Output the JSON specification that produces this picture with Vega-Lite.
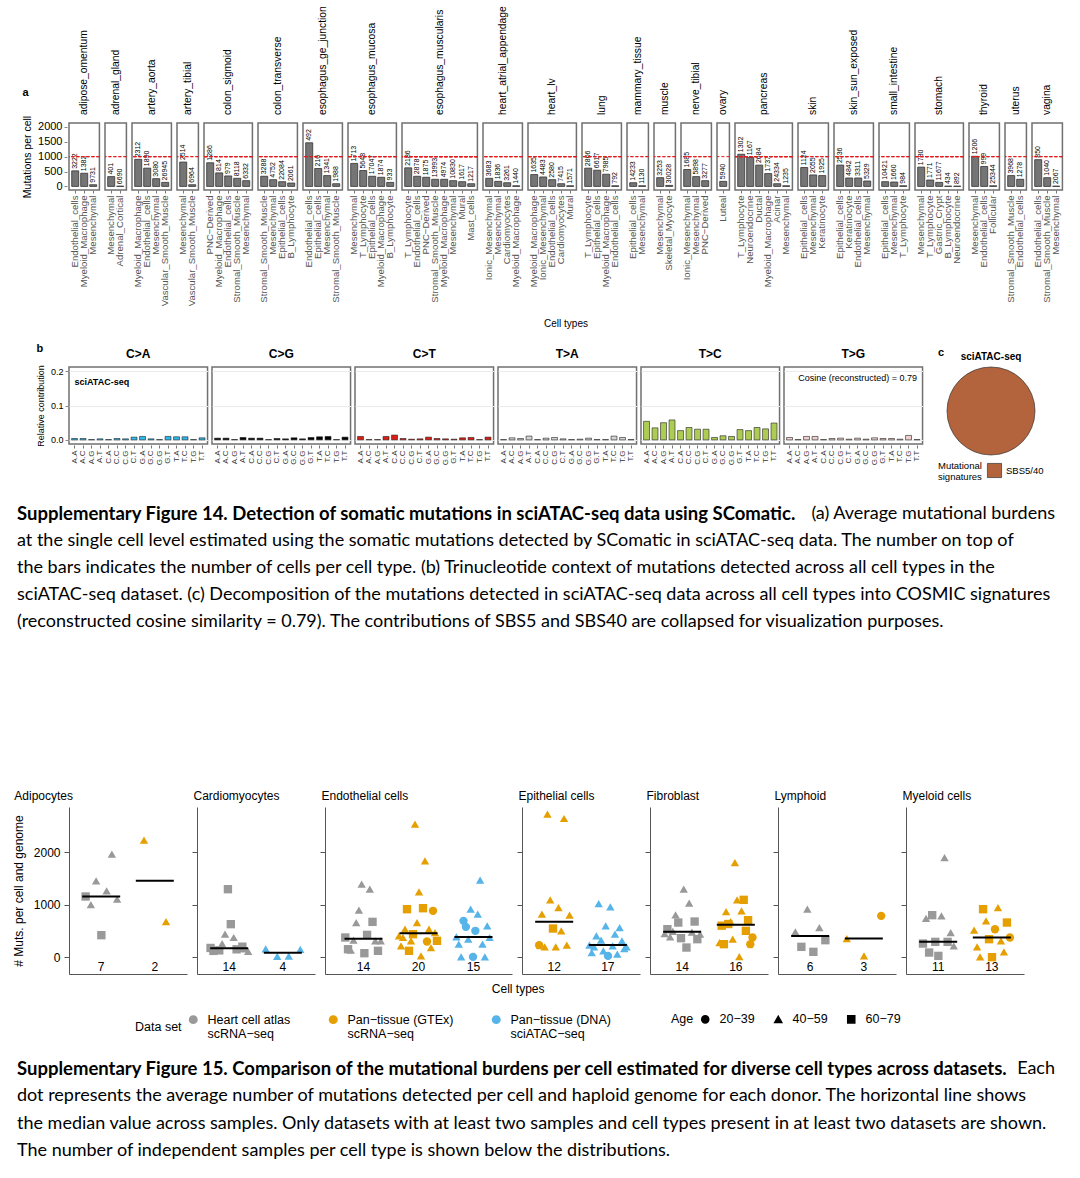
{
  "$schema": "https://vega.github.io/schema/vega-lite/v6.json",
  "padding": {"left": 12, "top": 6, "right": 4, "bottom": 4},
  "background": "white",
  "config": {
    "font": "Liberation Sans",
    "view": {"stroke": "#707070", "strokeWidth": 1.5},
    "axis": {"labelFont": "Liberation Sans", "titleFont": "Liberation Sans", "titleFontWeight": "normal", "labelOverlap": false},
    "header": {"labelFont": "Liberation Sans", "titleFont": "Liberation Sans"},
    "title": {"font": "Liberation Sans"},
    "legend": {"labelFont": "Liberation Sans", "titleFont": "Liberation Sans", "layout": {"bottom": {"anchor": "middle", "direction": "horizontal", "margin": 60}}}
  },
  "datasets": {
    "a": [
      {"tissue": "adipose_omentum", "cell": "Endothelial_cells", "mut": 523, "n": 3222},
      {"tissue": "adipose_omentum", "cell": "Myeloid_Macrophage", "mut": 443, "n": 1382},
      {"tissue": "adipose_omentum", "cell": "Mesenchymal", "mut": 57, "n": 9731},
      {"tissue": "adrenal_gland", "cell": "Mesenchymal", "mut": 330, "n": 401},
      {"tissue": "adrenal_gland", "cell": "Adrenal_Cortical", "mut": 10, "n": 6690},
      {"tissue": "artery_aorta", "cell": "Myeloid_Macrophage", "mut": 909, "n": 2312},
      {"tissue": "artery_aorta", "cell": "Endothelial_cells", "mut": 614, "n": 1890},
      {"tissue": "artery_aorta", "cell": "Mesenchymal", "mut": 261, "n": 3080},
      {"tissue": "artery_aorta", "cell": "Vascular_Smooth_Muscle", "mut": 136, "n": 26945},
      {"tissue": "artery_tibial", "cell": "Mesenchymal", "mut": 818, "n": 2514},
      {"tissue": "artery_tibial", "cell": "Vascular_Smooth_Muscle", "mut": 57, "n": 6964},
      {"tissue": "colon_sigmoid", "cell": "PNC-Derived", "mut": 795, "n": 1286},
      {"tissue": "colon_sigmoid", "cell": "Myeloid_Macrophage", "mut": 455, "n": 814},
      {"tissue": "colon_sigmoid", "cell": "Endothelial_cells", "mut": 352, "n": 979},
      {"tissue": "colon_sigmoid", "cell": "Stromal_Smooth_Muscle", "mut": 273, "n": 8118},
      {"tissue": "colon_sigmoid", "cell": "Mesenchymal", "mut": 193, "n": 6332},
      {"tissue": "colon_transverse", "cell": "Stromal_Smooth_Muscle", "mut": 341, "n": 3288},
      {"tissue": "colon_transverse", "cell": "Mesenchymal", "mut": 227, "n": 4752},
      {"tissue": "colon_transverse", "cell": "Epithelial_cells", "mut": 159, "n": 22084},
      {"tissue": "colon_transverse", "cell": "B_Lymphocyte", "mut": 114, "n": 2061},
      {"tissue": "esophagus_ge_junction", "cell": "Endothelial_cells", "mut": 1466, "n": 492},
      {"tissue": "esophagus_ge_junction", "cell": "Epithelial_cells", "mut": 602, "n": 216},
      {"tissue": "esophagus_ge_junction", "cell": "Mesenchymal", "mut": 364, "n": 1341},
      {"tissue": "esophagus_ge_junction", "cell": "Stromal_Smooth_Muscle", "mut": 91, "n": 1988},
      {"tissue": "esophagus_mucosa", "cell": "Mesenchymal", "mut": 773, "n": 1713},
      {"tissue": "esophagus_mucosa", "cell": "T_Lymphocyte", "mut": 534, "n": 5648},
      {"tissue": "esophagus_mucosa", "cell": "Epithelial_cells", "mut": 341, "n": 17047},
      {"tissue": "esophagus_mucosa", "cell": "Myeloid_Macrophage", "mut": 307, "n": 1874},
      {"tissue": "esophagus_mucosa", "cell": "B_Lymphocyte", "mut": 136, "n": 933},
      {"tissue": "esophagus_muscularis", "cell": "T_Lymphocyte", "mut": 625, "n": 2186},
      {"tissue": "esophagus_muscularis", "cell": "Endothelial_cells", "mut": 341, "n": 2878},
      {"tissue": "esophagus_muscularis", "cell": "PNC-Derived", "mut": 307, "n": 1875},
      {"tissue": "esophagus_muscularis", "cell": "Stromal_Smooth_Muscle", "mut": 239, "n": 13993},
      {"tissue": "esophagus_muscularis", "cell": "Myeloid_Macrophage", "mut": 239, "n": 4974},
      {"tissue": "esophagus_muscularis", "cell": "Mesenchymal", "mut": 193, "n": 10830},
      {"tissue": "esophagus_muscularis", "cell": "Mural", "mut": 159, "n": 1617},
      {"tissue": "esophagus_muscularis", "cell": "Mast_cells", "mut": 91, "n": 1217},
      {"tissue": "heart_atrial_appendage", "cell": "Ionic_Mesenchymal", "mut": 273, "n": 3683},
      {"tissue": "heart_atrial_appendage", "cell": "Mesenchymal", "mut": 170, "n": 1836},
      {"tissue": "heart_atrial_appendage", "cell": "Cardiomyocytes", "mut": 125, "n": 3261},
      {"tissue": "heart_atrial_appendage", "cell": "Myeloid_Macrophage", "mut": 23, "n": 1440},
      {"tissue": "heart_lv", "cell": "Myeloid_Macrophage", "mut": 398, "n": 1635},
      {"tissue": "heart_lv", "cell": "Ionic_Mesenchymal", "mut": 318, "n": 4483},
      {"tissue": "heart_lv", "cell": "Endothelial_cells", "mut": 227, "n": 2580},
      {"tissue": "heart_lv", "cell": "Cardiomyocytes", "mut": 91, "n": 7415},
      {"tissue": "heart_lv", "cell": "Mural", "mut": 23, "n": 1571},
      {"tissue": "lung", "cell": "T_Lymphocyte", "mut": 614, "n": 2806},
      {"tissue": "lung", "cell": "Epithelial_cells", "mut": 545, "n": 6617},
      {"tissue": "lung", "cell": "Myeloid_Macrophage", "mut": 409, "n": 7985},
      {"tissue": "lung", "cell": "Endothelial_cells", "mut": 23, "n": 792},
      {"tissue": "mammary_tissue", "cell": "Epithelial_cells", "mut": 125, "n": 14233},
      {"tissue": "mammary_tissue", "cell": "Mesenchymal", "mut": 23, "n": 1130},
      {"tissue": "muscle", "cell": "Mesenchymal", "mut": 295, "n": 3253},
      {"tissue": "muscle", "cell": "Skeletal_Myocyte", "mut": 34, "n": 30028},
      {"tissue": "nerve_tibial", "cell": "Ionic_Mesenchymal", "mut": 568, "n": 1685},
      {"tissue": "nerve_tibial", "cell": "Mesenchymal", "mut": 330, "n": 5898},
      {"tissue": "nerve_tibial", "cell": "PNC-Derived", "mut": 193, "n": 3277},
      {"tissue": "ovary", "cell": "Luteal", "mut": 170, "n": 5940},
      {"tissue": "pancreas", "cell": "T_Lymphocyte", "mut": 1080, "n": 1302},
      {"tissue": "pancreas", "cell": "Neuroendocrine", "mut": 977, "n": 1167},
      {"tissue": "pancreas", "cell": "Ductal", "mut": 716, "n": 2684},
      {"tissue": "pancreas", "cell": "Myeloid_Macrophage", "mut": 432, "n": 1737},
      {"tissue": "pancreas", "cell": "Acinar", "mut": 91, "n": 24334},
      {"tissue": "pancreas", "cell": "Mesenchymal", "mut": 23, "n": 1235},
      {"tissue": "skin", "cell": "Epithelial_cells", "mut": 636, "n": 1124},
      {"tissue": "skin", "cell": "Mesenchymal", "mut": 386, "n": 2055},
      {"tissue": "skin", "cell": "Keratinocyte", "mut": 364, "n": 1925},
      {"tissue": "skin_sun_exposed", "cell": "Epithelial_cells", "mut": 716, "n": 2536},
      {"tissue": "skin_sun_exposed", "cell": "Keratinocyte", "mut": 284, "n": 4842},
      {"tissue": "skin_sun_exposed", "cell": "Endothelial_cells", "mut": 284, "n": 3311},
      {"tissue": "skin_sun_exposed", "cell": "Mesenchymal", "mut": 182, "n": 5329},
      {"tissue": "small_intestine", "cell": "Epithelial_cells", "mut": 159, "n": 10421},
      {"tissue": "small_intestine", "cell": "Mesenchymal", "mut": 148, "n": 1660},
      {"tissue": "small_intestine", "cell": "T_Lymphocyte", "mut": 23, "n": 984},
      {"tissue": "stomach", "cell": "Mesenchymal", "mut": 648, "n": 1780},
      {"tissue": "stomach", "cell": "T_Lymphocyte", "mut": 216, "n": 1771},
      {"tissue": "stomach", "cell": "Gastric_Crypt", "mut": 136, "n": 11677},
      {"tissue": "stomach", "cell": "B_Lymphocyte", "mut": 11, "n": 434},
      {"tissue": "stomach", "cell": "Neuroendocrine", "mut": 11, "n": 892},
      {"tissue": "thyroid", "cell": "Mesenchymal", "mut": 1011, "n": 1206},
      {"tissue": "thyroid", "cell": "Endothelial_cells", "mut": 670, "n": 999},
      {"tissue": "thyroid", "cell": "Follicular", "mut": 23, "n": 25344},
      {"tissue": "uterus", "cell": "Stromal_Smooth_Muscle", "mut": 364, "n": 3968},
      {"tissue": "uterus", "cell": "Endothelial_cells", "mut": 239, "n": 1278},
      {"tissue": "vagina", "cell": "Endothelial_cells", "mut": 898, "n": 850},
      {"tissue": "vagina", "cell": "Stromal_Smooth_Muscle", "mut": 295, "n": 1040},
      {"tissue": "vagina", "cell": "Mesenchymal", "mut": 11, "n": 2067}
    ],
    "b": [
      {"sub": "C>A", "ctx": "A.A", "v": 0.004}, {"sub": "C>A", "ctx": "A.C", "v": 0.004}, {"sub": "C>A", "ctx": "A.G", "v": 0.001}, {"sub": "C>A", "ctx": "A.T", "v": 0.003},
      {"sub": "C>A", "ctx": "C.A", "v": 0.001}, {"sub": "C>A", "ctx": "C.C", "v": 0.004}, {"sub": "C>A", "ctx": "C.G", "v": 0.003}, {"sub": "C>A", "ctx": "C.T", "v": 0.008},
      {"sub": "C>A", "ctx": "G.A", "v": 0.010}, {"sub": "C>A", "ctx": "G.C", "v": 0.003}, {"sub": "C>A", "ctx": "G.G", "v": 0.001}, {"sub": "C>A", "ctx": "G.T", "v": 0.010},
      {"sub": "C>A", "ctx": "T.A", "v": 0.009}, {"sub": "C>A", "ctx": "T.C", "v": 0.009}, {"sub": "C>A", "ctx": "T.G", "v": 0.001}, {"sub": "C>A", "ctx": "T.T", "v": 0.006},
      {"sub": "C>G", "ctx": "A.A", "v": 0.005}, {"sub": "C>G", "ctx": "A.C", "v": 0.005}, {"sub": "C>G", "ctx": "A.G", "v": 0.001}, {"sub": "C>G", "ctx": "A.T", "v": 0.007},
      {"sub": "C>G", "ctx": "C.A", "v": 0.005}, {"sub": "C>G", "ctx": "C.C", "v": 0.005}, {"sub": "C>G", "ctx": "C.G", "v": 0.001}, {"sub": "C>G", "ctx": "C.T", "v": 0.004},
      {"sub": "C>G", "ctx": "G.A", "v": 0.003}, {"sub": "C>G", "ctx": "G.C", "v": 0.006}, {"sub": "C>G", "ctx": "G.G", "v": 0.003}, {"sub": "C>G", "ctx": "G.T", "v": 0.007},
      {"sub": "C>G", "ctx": "T.A", "v": 0.009}, {"sub": "C>G", "ctx": "T.C", "v": 0.010}, {"sub": "C>G", "ctx": "T.G", "v": 0.001}, {"sub": "C>G", "ctx": "T.T", "v": 0.008},
      {"sub": "C>T", "ctx": "A.A", "v": 0.010}, {"sub": "C>T", "ctx": "A.C", "v": 0.001}, {"sub": "C>T", "ctx": "A.G", "v": 0.001}, {"sub": "C>T", "ctx": "A.T", "v": 0.010},
      {"sub": "C>T", "ctx": "C.A", "v": 0.014}, {"sub": "C>T", "ctx": "C.C", "v": 0.004}, {"sub": "C>T", "ctx": "C.G", "v": 0.002}, {"sub": "C>T", "ctx": "C.T", "v": 0.003},
      {"sub": "C>T", "ctx": "G.A", "v": 0.008}, {"sub": "C>T", "ctx": "G.C", "v": 0.004}, {"sub": "C>T", "ctx": "G.G", "v": 0.003}, {"sub": "C>T", "ctx": "G.T", "v": 0.002},
      {"sub": "C>T", "ctx": "T.A", "v": 0.006}, {"sub": "C>T", "ctx": "T.C", "v": 0.007}, {"sub": "C>T", "ctx": "T.G", "v": 0.001}, {"sub": "C>T", "ctx": "T.T", "v": 0.008},
      {"sub": "T>A", "ctx": "A.A", "v": 0.001}, {"sub": "T>A", "ctx": "A.C", "v": 0.006}, {"sub": "T>A", "ctx": "A.G", "v": 0.004}, {"sub": "T>A", "ctx": "A.T", "v": 0.011},
      {"sub": "T>A", "ctx": "C.A", "v": 0.001}, {"sub": "T>A", "ctx": "C.C", "v": 0.005}, {"sub": "T>A", "ctx": "C.G", "v": 0.007}, {"sub": "T>A", "ctx": "C.T", "v": 0.003},
      {"sub": "T>A", "ctx": "G.A", "v": 0.001}, {"sub": "T>A", "ctx": "G.C", "v": 0.002}, {"sub": "T>A", "ctx": "G.G", "v": 0.005}, {"sub": "T>A", "ctx": "G.T", "v": 0.001},
      {"sub": "T>A", "ctx": "T.A", "v": 0.001}, {"sub": "T>A", "ctx": "T.C", "v": 0.011}, {"sub": "T>A", "ctx": "T.G", "v": 0.007}, {"sub": "T>A", "ctx": "T.T", "v": 0.001},
      {"sub": "T>C", "ctx": "A.A", "v": 0.054}, {"sub": "T>C", "ctx": "A.C", "v": 0.035}, {"sub": "T>C", "ctx": "A.G", "v": 0.050}, {"sub": "T>C", "ctx": "A.T", "v": 0.058},
      {"sub": "T>C", "ctx": "C.A", "v": 0.027}, {"sub": "T>C", "ctx": "C.C", "v": 0.036}, {"sub": "T>C", "ctx": "C.G", "v": 0.031}, {"sub": "T>C", "ctx": "C.T", "v": 0.031},
      {"sub": "T>C", "ctx": "G.A", "v": 0.007}, {"sub": "T>C", "ctx": "G.C", "v": 0.012}, {"sub": "T>C", "ctx": "G.G", "v": 0.010}, {"sub": "T>C", "ctx": "G.T", "v": 0.030},
      {"sub": "T>C", "ctx": "T.A", "v": 0.027}, {"sub": "T>C", "ctx": "T.C", "v": 0.036}, {"sub": "T>C", "ctx": "T.G", "v": 0.032}, {"sub": "T>C", "ctx": "T.T", "v": 0.049},
      {"sub": "T>G", "ctx": "A.A", "v": 0.007}, {"sub": "T>G", "ctx": "A.C", "v": 0.001}, {"sub": "T>G", "ctx": "A.G", "v": 0.010}, {"sub": "T>G", "ctx": "A.T", "v": 0.010},
      {"sub": "T>G", "ctx": "C.A", "v": 0.001}, {"sub": "T>G", "ctx": "C.C", "v": 0.004}, {"sub": "T>G", "ctx": "C.G", "v": 0.005}, {"sub": "T>G", "ctx": "C.T", "v": 0.002},
      {"sub": "T>G", "ctx": "G.A", "v": 0.005}, {"sub": "T>G", "ctx": "G.C", "v": 0.002}, {"sub": "T>G", "ctx": "G.G", "v": 0.006}, {"sub": "T>G", "ctx": "G.T", "v": 0.004},
      {"sub": "T>G", "ctx": "T.A", "v": 0.004}, {"sub": "T>G", "ctx": "T.C", "v": 0.002}, {"sub": "T>G", "ctx": "T.G", "v": 0.013}, {"sub": "T>G", "ctx": "T.T", "v": 0.001}
    ],
    "f15": [
      {"cell": "Adipocytes", "ds": "Heart cell atlas scRNA-seq", "age": "60-79", "v": 1156, "r": 1},
      {"cell": "Adipocytes", "ds": "Heart cell atlas scRNA-seq", "age": "40-59", "v": 1003, "r": 2},
      {"cell": "Adipocytes", "ds": "Heart cell atlas scRNA-seq", "age": "40-59", "v": 1454, "r": 3},
      {"cell": "Adipocytes", "ds": "Heart cell atlas scRNA-seq", "age": "60-79", "v": 419, "r": 4},
      {"cell": "Adipocytes", "ds": "Heart cell atlas scRNA-seq", "age": "40-59", "v": 1263, "r": 5},
      {"cell": "Adipocytes", "ds": "Heart cell atlas scRNA-seq", "age": "40-59", "v": 1962, "r": 6},
      {"cell": "Adipocytes", "ds": "Heart cell atlas scRNA-seq", "age": "40-59", "v": 1105, "r": 7},
      {"cell": "Adipocytes", "ds": "Pan-tissue (GTEx) scRNA-seq", "age": "40-59", "v": 2229, "r": 1},
      {"cell": "Adipocytes", "ds": "Pan-tissue (GTEx) scRNA-seq", "age": "40-59", "v": 679, "r": 2},
      {"cell": "Cardiomyocytes", "ds": "Heart cell atlas scRNA-seq", "age": "60-79", "v": 176, "r": 1},
      {"cell": "Cardiomyocytes", "ds": "Heart cell atlas scRNA-seq", "age": "60-79", "v": 120, "r": 2},
      {"cell": "Cardiomyocytes", "ds": "Heart cell atlas scRNA-seq", "age": "40-59", "v": 140, "r": 3},
      {"cell": "Cardiomyocytes", "ds": "Heart cell atlas scRNA-seq", "age": "60-79", "v": 130, "r": 4},
      {"cell": "Cardiomyocytes", "ds": "Heart cell atlas scRNA-seq", "age": "40-59", "v": 260, "r": 5},
      {"cell": "Cardiomyocytes", "ds": "Heart cell atlas scRNA-seq", "age": "40-59", "v": 438, "r": 6},
      {"cell": "Cardiomyocytes", "ds": "Heart cell atlas scRNA-seq", "age": "60-79", "v": 1295, "r": 7},
      {"cell": "Cardiomyocytes", "ds": "Heart cell atlas scRNA-seq", "age": "60-79", "v": 629, "r": 8},
      {"cell": "Cardiomyocytes", "ds": "Heart cell atlas scRNA-seq", "age": "40-59", "v": 375, "r": 9},
      {"cell": "Cardiomyocytes", "ds": "Heart cell atlas scRNA-seq", "age": "60-79", "v": 150, "r": 10},
      {"cell": "Cardiomyocytes", "ds": "Heart cell atlas scRNA-seq", "age": "40-59", "v": 168, "r": 11},
      {"cell": "Cardiomyocytes", "ds": "Heart cell atlas scRNA-seq", "age": "60-79", "v": 200, "r": 12},
      {"cell": "Cardiomyocytes", "ds": "Heart cell atlas scRNA-seq", "age": "40-59", "v": 160, "r": 13},
      {"cell": "Cardiomyocytes", "ds": "Heart cell atlas scRNA-seq", "age": "40-59", "v": 110, "r": 14},
      {"cell": "Cardiomyocytes", "ds": "Pan-tissue (DNA) sciATAC-seq", "age": "40-59", "v": 160, "r": 1},
      {"cell": "Cardiomyocytes", "ds": "Pan-tissue (DNA) sciATAC-seq", "age": "40-59", "v": 15, "r": 2},
      {"cell": "Cardiomyocytes", "ds": "Pan-tissue (DNA) sciATAC-seq", "age": "40-59", "v": 20, "r": 3},
      {"cell": "Cardiomyocytes", "ds": "Pan-tissue (DNA) sciATAC-seq", "age": "40-59", "v": 150, "r": 4},
      {"cell": "Endothelial cells", "ds": "Heart cell atlas scRNA-seq", "age": "60-79", "v": 375, "r": 1},
      {"cell": "Endothelial cells", "ds": "Heart cell atlas scRNA-seq", "age": "60-79", "v": 152, "r": 2},
      {"cell": "Endothelial cells", "ds": "Heart cell atlas scRNA-seq", "age": "40-59", "v": 133, "r": 3},
      {"cell": "Endothelial cells", "ds": "Heart cell atlas scRNA-seq", "age": "40-59", "v": 324, "r": 4},
      {"cell": "Endothelial cells", "ds": "Heart cell atlas scRNA-seq", "age": "40-59", "v": 660, "r": 5},
      {"cell": "Endothelial cells", "ds": "Heart cell atlas scRNA-seq", "age": "40-59", "v": 895, "r": 6},
      {"cell": "Endothelial cells", "ds": "Heart cell atlas scRNA-seq", "age": "40-59", "v": 1390, "r": 7},
      {"cell": "Endothelial cells", "ds": "Heart cell atlas scRNA-seq", "age": "60-79", "v": 76, "r": 8},
      {"cell": "Endothelial cells", "ds": "Heart cell atlas scRNA-seq", "age": "60-79", "v": 425, "r": 9},
      {"cell": "Endothelial cells", "ds": "Heart cell atlas scRNA-seq", "age": "40-59", "v": 1295, "r": 10},
      {"cell": "Endothelial cells", "ds": "Heart cell atlas scRNA-seq", "age": "60-79", "v": 673, "r": 11},
      {"cell": "Endothelial cells", "ds": "Heart cell atlas scRNA-seq", "age": "40-59", "v": 311, "r": 12},
      {"cell": "Endothelial cells", "ds": "Heart cell atlas scRNA-seq", "age": "60-79", "v": 121, "r": 13},
      {"cell": "Endothelial cells", "ds": "Heart cell atlas scRNA-seq", "age": "40-59", "v": 311, "r": 14},
      {"cell": "Endothelial cells", "ds": "Pan-tissue (GTEx) scRNA-seq", "age": "40-59", "v": 406, "r": 1},
      {"cell": "Endothelial cells", "ds": "Pan-tissue (GTEx) scRNA-seq", "age": "40-59", "v": 216, "r": 2},
      {"cell": "Endothelial cells", "ds": "Pan-tissue (GTEx) scRNA-seq", "age": "40-59", "v": 375, "r": 3},
      {"cell": "Endothelial cells", "ds": "Pan-tissue (GTEx) scRNA-seq", "age": "40-59", "v": 533, "r": 4},
      {"cell": "Endothelial cells", "ds": "Pan-tissue (GTEx) scRNA-seq", "age": "60-79", "v": 914, "r": 5},
      {"cell": "Endothelial cells", "ds": "Pan-tissue (GTEx) scRNA-seq", "age": "60-79", "v": 121, "r": 6},
      {"cell": "Endothelial cells", "ds": "Pan-tissue (GTEx) scRNA-seq", "age": "40-59", "v": 311, "r": 7},
      {"cell": "Endothelial cells", "ds": "Pan-tissue (GTEx) scRNA-seq", "age": "60-79", "v": 438, "r": 8},
      {"cell": "Endothelial cells", "ds": "Pan-tissue (GTEx) scRNA-seq", "age": "40-59", "v": 2533, "r": 9},
      {"cell": "Endothelial cells", "ds": "Pan-tissue (GTEx) scRNA-seq", "age": "40-59", "v": 660, "r": 10},
      {"cell": "Endothelial cells", "ds": "Pan-tissue (GTEx) scRNA-seq", "age": "40-59", "v": 1244, "r": 11},
      {"cell": "Endothelial cells", "ds": "Pan-tissue (GTEx) scRNA-seq", "age": "40-59", "v": 25, "r": 12},
      {"cell": "Endothelial cells", "ds": "Pan-tissue (GTEx) scRNA-seq", "age": "60-79", "v": 933, "r": 13},
      {"cell": "Endothelial cells", "ds": "Pan-tissue (GTEx) scRNA-seq", "age": "40-59", "v": 1835, "r": 14},
      {"cell": "Endothelial cells", "ds": "Pan-tissue (GTEx) scRNA-seq", "age": "20-39", "v": 298, "r": 15},
      {"cell": "Endothelial cells", "ds": "Pan-tissue (GTEx) scRNA-seq", "age": "40-59", "v": 533, "r": 16},
      {"cell": "Endothelial cells", "ds": "Pan-tissue (GTEx) scRNA-seq", "age": "40-59", "v": 184, "r": 17},
      {"cell": "Endothelial cells", "ds": "Pan-tissue (GTEx) scRNA-seq", "age": "20-39", "v": 883, "r": 18},
      {"cell": "Endothelial cells", "ds": "Pan-tissue (GTEx) scRNA-seq", "age": "40-59", "v": 470, "r": 19},
      {"cell": "Endothelial cells", "ds": "Pan-tissue (GTEx) scRNA-seq", "age": "60-79", "v": 311, "r": 20},
      {"cell": "Endothelial cells", "ds": "Pan-tissue (DNA) sciATAC-seq", "age": "40-59", "v": 385, "r": 1},
      {"cell": "Endothelial cells", "ds": "Pan-tissue (DNA) sciATAC-seq", "age": "40-59", "v": 248, "r": 2},
      {"cell": "Endothelial cells", "ds": "Pan-tissue (DNA) sciATAC-seq", "age": "40-59", "v": 6, "r": 3},
      {"cell": "Endothelial cells", "ds": "Pan-tissue (DNA) sciATAC-seq", "age": "20-39", "v": 692, "r": 4},
      {"cell": "Endothelial cells", "ds": "Pan-tissue (DNA) sciATAC-seq", "age": "20-39", "v": 578, "r": 5},
      {"cell": "Endothelial cells", "ds": "Pan-tissue (DNA) sciATAC-seq", "age": "40-59", "v": 343, "r": 6},
      {"cell": "Endothelial cells", "ds": "Pan-tissue (DNA) sciATAC-seq", "age": "40-59", "v": 914, "r": 7},
      {"cell": "Endothelial cells", "ds": "Pan-tissue (DNA) sciATAC-seq", "age": "20-39", "v": 6, "r": 8},
      {"cell": "Endothelial cells", "ds": "Pan-tissue (DNA) sciATAC-seq", "age": "20-39", "v": 502, "r": 9},
      {"cell": "Endothelial cells", "ds": "Pan-tissue (DNA) sciATAC-seq", "age": "40-59", "v": 819, "r": 10},
      {"cell": "Endothelial cells", "ds": "Pan-tissue (DNA) sciATAC-seq", "age": "40-59", "v": 1467, "r": 11},
      {"cell": "Endothelial cells", "ds": "Pan-tissue (DNA) sciATAC-seq", "age": "40-59", "v": 248, "r": 12},
      {"cell": "Endothelial cells", "ds": "Pan-tissue (DNA) sciATAC-seq", "age": "40-59", "v": 6, "r": 13},
      {"cell": "Endothelial cells", "ds": "Pan-tissue (DNA) sciATAC-seq", "age": "40-59", "v": 597, "r": 14},
      {"cell": "Endothelial cells", "ds": "Pan-tissue (DNA) sciATAC-seq", "age": "40-59", "v": 375, "r": 15},
      {"cell": "Epithelial cells", "ds": "Pan-tissue (GTEx) scRNA-seq", "age": "20-39", "v": 229, "r": 1},
      {"cell": "Epithelial cells", "ds": "Pan-tissue (GTEx) scRNA-seq", "age": "40-59", "v": 819, "r": 2},
      {"cell": "Epithelial cells", "ds": "Pan-tissue (GTEx) scRNA-seq", "age": "40-59", "v": 197, "r": 3},
      {"cell": "Epithelial cells", "ds": "Pan-tissue (GTEx) scRNA-seq", "age": "40-59", "v": 2724, "r": 4},
      {"cell": "Epithelial cells", "ds": "Pan-tissue (GTEx) scRNA-seq", "age": "40-59", "v": 1092, "r": 5},
      {"cell": "Epithelial cells", "ds": "Pan-tissue (GTEx) scRNA-seq", "age": "60-79", "v": 546, "r": 6},
      {"cell": "Epithelial cells", "ds": "Pan-tissue (GTEx) scRNA-seq", "age": "40-59", "v": 197, "r": 7},
      {"cell": "Epithelial cells", "ds": "Pan-tissue (GTEx) scRNA-seq", "age": "40-59", "v": 946, "r": 8},
      {"cell": "Epithelial cells", "ds": "Pan-tissue (GTEx) scRNA-seq", "age": "40-59", "v": 502, "r": 9},
      {"cell": "Epithelial cells", "ds": "Pan-tissue (GTEx) scRNA-seq", "age": "40-59", "v": 2641, "r": 10},
      {"cell": "Epithelial cells", "ds": "Pan-tissue (GTEx) scRNA-seq", "age": "40-59", "v": 229, "r": 11},
      {"cell": "Epithelial cells", "ds": "Pan-tissue (GTEx) scRNA-seq", "age": "40-59", "v": 800, "r": 12},
      {"cell": "Epithelial cells", "ds": "Pan-tissue (DNA) sciATAC-seq", "age": "40-59", "v": 232, "r": 1},
      {"cell": "Epithelial cells", "ds": "Pan-tissue (DNA) sciATAC-seq", "age": "40-59", "v": 89, "r": 2},
      {"cell": "Epithelial cells", "ds": "Pan-tissue (DNA) sciATAC-seq", "age": "40-59", "v": 197, "r": 3},
      {"cell": "Epithelial cells", "ds": "Pan-tissue (DNA) sciATAC-seq", "age": "40-59", "v": 406, "r": 4},
      {"cell": "Epithelial cells", "ds": "Pan-tissue (DNA) sciATAC-seq", "age": "40-59", "v": 1022, "r": 5},
      {"cell": "Epithelial cells", "ds": "Pan-tissue (DNA) sciATAC-seq", "age": "40-59", "v": 324, "r": 6},
      {"cell": "Epithelial cells", "ds": "Pan-tissue (DNA) sciATAC-seq", "age": "40-59", "v": 121, "r": 7},
      {"cell": "Epithelial cells", "ds": "Pan-tissue (DNA) sciATAC-seq", "age": "40-59", "v": 597, "r": 8},
      {"cell": "Epithelial cells", "ds": "Pan-tissue (DNA) sciATAC-seq", "age": "20-39", "v": 25, "r": 9},
      {"cell": "Epithelial cells", "ds": "Pan-tissue (DNA) sciATAC-seq", "age": "40-59", "v": 959, "r": 10},
      {"cell": "Epithelial cells", "ds": "Pan-tissue (DNA) sciATAC-seq", "age": "40-59", "v": 216, "r": 11},
      {"cell": "Epithelial cells", "ds": "Pan-tissue (DNA) sciATAC-seq", "age": "40-59", "v": 438, "r": 12},
      {"cell": "Epithelial cells", "ds": "Pan-tissue (DNA) sciATAC-seq", "age": "40-59", "v": 57, "r": 13},
      {"cell": "Epithelial cells", "ds": "Pan-tissue (DNA) sciATAC-seq", "age": "40-59", "v": 565, "r": 14},
      {"cell": "Epithelial cells", "ds": "Pan-tissue (DNA) sciATAC-seq", "age": "40-59", "v": 311, "r": 15},
      {"cell": "Epithelial cells", "ds": "Pan-tissue (DNA) sciATAC-seq", "age": "40-59", "v": 165, "r": 16},
      {"cell": "Epithelial cells", "ds": "Pan-tissue (DNA) sciATAC-seq", "age": "40-59", "v": 197, "r": 17},
      {"cell": "Fibroblast", "ds": "Heart cell atlas scRNA-seq", "age": "40-59", "v": 451, "r": 1},
      {"cell": "Fibroblast", "ds": "Heart cell atlas scRNA-seq", "age": "60-79", "v": 533, "r": 2},
      {"cell": "Fibroblast", "ds": "Heart cell atlas scRNA-seq", "age": "40-59", "v": 387, "r": 3},
      {"cell": "Fibroblast", "ds": "Heart cell atlas scRNA-seq", "age": "40-59", "v": 490, "r": 4},
      {"cell": "Fibroblast", "ds": "Heart cell atlas scRNA-seq", "age": "40-59", "v": 806, "r": 5},
      {"cell": "Fibroblast", "ds": "Heart cell atlas scRNA-seq", "age": "60-79", "v": 660, "r": 6},
      {"cell": "Fibroblast", "ds": "Heart cell atlas scRNA-seq", "age": "60-79", "v": 362, "r": 7},
      {"cell": "Fibroblast", "ds": "Heart cell atlas scRNA-seq", "age": "40-59", "v": 1295, "r": 8},
      {"cell": "Fibroblast", "ds": "Heart cell atlas scRNA-seq", "age": "60-79", "v": 184, "r": 9},
      {"cell": "Fibroblast", "ds": "Heart cell atlas scRNA-seq", "age": "40-59", "v": 1029, "r": 10},
      {"cell": "Fibroblast", "ds": "Heart cell atlas scRNA-seq", "age": "40-59", "v": 476, "r": 11},
      {"cell": "Fibroblast", "ds": "Heart cell atlas scRNA-seq", "age": "60-79", "v": 679, "r": 12},
      {"cell": "Fibroblast", "ds": "Heart cell atlas scRNA-seq", "age": "60-79", "v": 343, "r": 13},
      {"cell": "Fibroblast", "ds": "Heart cell atlas scRNA-seq", "age": "40-59", "v": 438, "r": 14},
      {"cell": "Fibroblast", "ds": "Pan-tissue (GTEx) scRNA-seq", "age": "40-59", "v": 279, "r": 1},
      {"cell": "Fibroblast", "ds": "Pan-tissue (GTEx) scRNA-seq", "age": "60-79", "v": 600, "r": 2},
      {"cell": "Fibroblast", "ds": "Pan-tissue (GTEx) scRNA-seq", "age": "60-79", "v": 248, "r": 3},
      {"cell": "Fibroblast", "ds": "Pan-tissue (GTEx) scRNA-seq", "age": "40-59", "v": 870, "r": 4},
      {"cell": "Fibroblast", "ds": "Pan-tissue (GTEx) scRNA-seq", "age": "60-79", "v": 632, "r": 5},
      {"cell": "Fibroblast", "ds": "Pan-tissue (GTEx) scRNA-seq", "age": "40-59", "v": 679, "r": 6},
      {"cell": "Fibroblast", "ds": "Pan-tissue (GTEx) scRNA-seq", "age": "40-59", "v": 343, "r": 7},
      {"cell": "Fibroblast", "ds": "Pan-tissue (GTEx) scRNA-seq", "age": "40-59", "v": 1803, "r": 8},
      {"cell": "Fibroblast", "ds": "Pan-tissue (GTEx) scRNA-seq", "age": "40-59", "v": 1092, "r": 9},
      {"cell": "Fibroblast", "ds": "Pan-tissue (GTEx) scRNA-seq", "age": "40-59", "v": 13, "r": 10},
      {"cell": "Fibroblast", "ds": "Pan-tissue (GTEx) scRNA-seq", "age": "40-59", "v": 883, "r": 11},
      {"cell": "Fibroblast", "ds": "Pan-tissue (GTEx) scRNA-seq", "age": "60-79", "v": 1092, "r": 12},
      {"cell": "Fibroblast", "ds": "Pan-tissue (GTEx) scRNA-seq", "age": "60-79", "v": 502, "r": 13},
      {"cell": "Fibroblast", "ds": "Pan-tissue (GTEx) scRNA-seq", "age": "60-79", "v": 705, "r": 14},
      {"cell": "Fibroblast", "ds": "Pan-tissue (GTEx) scRNA-seq", "age": "20-39", "v": 248, "r": 15},
      {"cell": "Fibroblast", "ds": "Pan-tissue (GTEx) scRNA-seq", "age": "20-39", "v": 375, "r": 16},
      {"cell": "Lymphoid", "ds": "Heart cell atlas scRNA-seq", "age": "40-59", "v": 483, "r": 1},
      {"cell": "Lymphoid", "ds": "Heart cell atlas scRNA-seq", "age": "60-79", "v": 197, "r": 2},
      {"cell": "Lymphoid", "ds": "Heart cell atlas scRNA-seq", "age": "40-59", "v": 914, "r": 3},
      {"cell": "Lymphoid", "ds": "Heart cell atlas scRNA-seq", "age": "60-79", "v": 102, "r": 4},
      {"cell": "Lymphoid", "ds": "Heart cell atlas scRNA-seq", "age": "40-59", "v": 565, "r": 5},
      {"cell": "Lymphoid", "ds": "Heart cell atlas scRNA-seq", "age": "60-79", "v": 324, "r": 6},
      {"cell": "Lymphoid", "ds": "Pan-tissue (GTEx) scRNA-seq", "age": "40-59", "v": 355, "r": 1},
      {"cell": "Lymphoid", "ds": "Pan-tissue (GTEx) scRNA-seq", "age": "40-59", "v": 25, "r": 2},
      {"cell": "Lymphoid", "ds": "Pan-tissue (GTEx) scRNA-seq", "age": "20-39", "v": 787, "r": 3},
      {"cell": "Myeloid cells", "ds": "Heart cell atlas scRNA-seq", "age": "60-79", "v": 260, "r": 1},
      {"cell": "Myeloid cells", "ds": "Heart cell atlas scRNA-seq", "age": "40-59", "v": 737, "r": 2},
      {"cell": "Myeloid cells", "ds": "Heart cell atlas scRNA-seq", "age": "60-79", "v": 89, "r": 3},
      {"cell": "Myeloid cells", "ds": "Heart cell atlas scRNA-seq", "age": "60-79", "v": 800, "r": 4},
      {"cell": "Myeloid cells", "ds": "Heart cell atlas scRNA-seq", "age": "60-79", "v": 292, "r": 5},
      {"cell": "Myeloid cells", "ds": "Heart cell atlas scRNA-seq", "age": "60-79", "v": 25, "r": 6},
      {"cell": "Myeloid cells", "ds": "Heart cell atlas scRNA-seq", "age": "40-59", "v": 787, "r": 7},
      {"cell": "Myeloid cells", "ds": "Heart cell atlas scRNA-seq", "age": "40-59", "v": 1898, "r": 8},
      {"cell": "Myeloid cells", "ds": "Heart cell atlas scRNA-seq", "age": "60-79", "v": 292, "r": 9},
      {"cell": "Myeloid cells", "ds": "Heart cell atlas scRNA-seq", "age": "40-59", "v": 470, "r": 10},
      {"cell": "Myeloid cells", "ds": "Heart cell atlas scRNA-seq", "age": "40-59", "v": 216, "r": 11},
      {"cell": "Myeloid cells", "ds": "Pan-tissue (GTEx) scRNA-seq", "age": "40-59", "v": 514, "r": 1},
      {"cell": "Myeloid cells", "ds": "Pan-tissue (GTEx) scRNA-seq", "age": "40-59", "v": 197, "r": 2},
      {"cell": "Myeloid cells", "ds": "Pan-tissue (GTEx) scRNA-seq", "age": "40-59", "v": 6, "r": 3},
      {"cell": "Myeloid cells", "ds": "Pan-tissue (GTEx) scRNA-seq", "age": "60-79", "v": 914, "r": 4},
      {"cell": "Myeloid cells", "ds": "Pan-tissue (GTEx) scRNA-seq", "age": "40-59", "v": 692, "r": 5},
      {"cell": "Myeloid cells", "ds": "Pan-tissue (GTEx) scRNA-seq", "age": "60-79", "v": 343, "r": 6},
      {"cell": "Myeloid cells", "ds": "Pan-tissue (GTEx) scRNA-seq", "age": "60-79", "v": 0, "r": 7},
      {"cell": "Myeloid cells", "ds": "Pan-tissue (GTEx) scRNA-seq", "age": "20-39", "v": 533, "r": 8},
      {"cell": "Myeloid cells", "ds": "Pan-tissue (GTEx) scRNA-seq", "age": "40-59", "v": 946, "r": 9},
      {"cell": "Myeloid cells", "ds": "Pan-tissue (GTEx) scRNA-seq", "age": "40-59", "v": 311, "r": 10},
      {"cell": "Myeloid cells", "ds": "Pan-tissue (GTEx) scRNA-seq", "age": "40-59", "v": 102, "r": 11},
      {"cell": "Myeloid cells", "ds": "Pan-tissue (GTEx) scRNA-seq", "age": "60-79", "v": 660, "r": 12},
      {"cell": "Myeloid cells", "ds": "Pan-tissue (GTEx) scRNA-seq", "age": "20-39", "v": 375, "r": 13}
    ],
    "cap14": [
      {"line": 1, "seg": "lead", "part": "title", "text": "Supplementary Figure 14. Detection of somatic mutations in sciATAC-seq data using SComatic."},
      {"line": 1, "seg": "tail", "part": "body", "text": "(a) Average mutational burdens"},
      {"line": 2, "seg": "lead", "part": "body", "text": "at the single cell level estimated using the somatic mutations detected by SComatic in sciATAC-seq data. The number on top of"},
      {"line": 3, "seg": "lead", "part": "body", "text": "the bars indicates the number of cells per cell type. (b) Trinucleotide context of mutations detected across all cell types in the"},
      {"line": 4, "seg": "lead", "part": "body", "text": "sciATAC-seq dataset. (c) Decomposition of the mutations detected in sciATAC-seq data across all cell types into COSMIC signatures"},
      {"line": 5, "seg": "lead", "part": "body", "text": "(reconstructed cosine similarity = 0.79). The contributions of SBS5 and SBS40 are collapsed for visualization purposes."}
    ],
    "cap15": [
      {"line": 1, "seg": "lead", "part": "title", "text": "Supplementary Figure 15. Comparison of the mutational burdens per cell estimated for diverse cell types across datasets."},
      {"line": 1, "seg": "tail", "part": "body", "text": "Each"},
      {"line": 2, "seg": "lead", "part": "body", "text": "dot represents the average number of mutations detected per cell and haploid genome for each donor. The horizontal line shows"},
      {"line": 3, "seg": "lead", "part": "body", "text": "the median value across samples. Only datasets with at least two samples and cell types present in at least two datasets are shown."},
      {"line": 4, "seg": "lead", "part": "body", "text": "The number of independent samples per cell type is shown below the distributions."}
    ]
  },
  "resolve": {"scale": {"color": "independent", "shape": "independent"}},
  "spacing": 14,
  "vconcat": [
    {
      "data": {"name": "a"},
      "title": {"text": "a", "anchor": "start", "frame": "bounds", "fontSize": 11, "fontWeight": "bold", "dy": 92, "offset": 0},
      "facet": {
        "column": {
          "field": "tissue", "type": "nominal",
          "header": {"labelAngle": -90, "labelAlign": "right", "labelBaseline": "middle", "labelOrient": "top", "labelFontSize": 10.3, "labelPadding": 7,
                     "title": "Cell types", "titleOrient": "bottom", "titleFontSize": 10, "titleFontWeight": "normal", "titlePadding": 2}
        }
      },
      "spacing": {"column": 2},
      "resolve": {"scale": {"x": "independent"}},
      "spec": {
        "width": {"step": 9.0},
        "height": 67,
        "layer": [
          {
            "mark": {"type": "bar", "color": "#757575", "stroke": "#333333", "strokeWidth": 0.8},
            "encoding": {
              "x": {"field": "cell", "type": "nominal", "sort": null, "scale": {"paddingInner": 0.22, "paddingOuter": 0.3},
                    "axis": {"title": null, "labelAngle": -90, "labelFontSize": 9.6, "labelColor": "#555555", "domain": false, "ticks": true, "tickSize": 3, "tickColor": "#777777", "labelPadding": 2,
                             "labelExpr": "replace(datum.label, '-', '\u2212')"}},
              "y": {"field": "mut", "type": "quantitative", "scale": {"domain": [-120, 2130], "nice": false, "zero": false},
                    "axis": {"tickCount": 5, "format": "d", "labelOverlap": false, "grid": false, "domain": false, "tickSize": 3, "labelFontSize": 11, "labelPadding": 2, "title": "Mutations per cell", "titleFontSize": 10.5, "titlePadding": 5}}
            }
          },
          {
            "mark": {"type": "text", "angle": 270, "align": "left", "baseline": "middle", "dx": 2, "fontSize": 7},
            "encoding": {
              "x": {"field": "cell", "type": "nominal", "sort": null},
              "y": {"field": "mut", "type": "quantitative"},
              "text": {"field": "n"}
            }
          },
          {
            "mark": {"type": "rule", "color": "#e41a1c", "strokeDash": [3, 2], "strokeWidth": 1},
            "encoding": {"y": {"datum": 1000}}
          }
        ]
      }
    },
    {
      "resolve": {"scale": {"color": "independent"}},
      "spacing": 14,
      "hconcat": [
        {
          "data": {"name": "b"},
          "title": {"text": "b", "anchor": "start", "frame": "bounds", "fontSize": 11, "fontWeight": "bold", "offset": -6},
          "facet": {
            "column": {"field": "sub", "type": "nominal", "sort": ["C>A", "C>G", "C>T", "T>A", "T>C", "T>G"],
                       "header": {"title": null, "labelFontSize": 12, "labelFontWeight": "bold", "labelPadding": 5}}
          },
          "spacing": {"column": 2},
          "spec": {
            "width": {"step": 8.5},
            "height": 77,
            "layer": [
              {
                "mark": {"type": "bar", "stroke": "#222222", "strokeWidth": 0.6},
                "encoding": {
                  "x": {"field": "ctx", "type": "nominal", "sort": null, "scale": {"paddingInner": 0.3, "paddingOuter": 0.3},
                        "axis": {"title": null, "labelAngle": -90, "labelFontSize": 8, "labelColor": "#333333", "domain": false, "ticks": true, "tickSize": 3, "tickColor": "#777777", "labelPadding": 2}},
                  "y": {"field": "v", "type": "quantitative", "scale": {"domain": [-0.012, 0.212], "nice": false, "zero": false},
                        "axis": {"tickCount": 3, "format": ".1f", "labelOverlap": false, "grid": true, "gridColor": "#ebebeb", "domain": false, "tickSize": 3, "labelFontSize": 9, "labelPadding": 2, "title": "Relative contribution", "titleFontSize": 9, "titlePadding": 5}},
                  "color": {"field": "sub", "type": "nominal", "scale": {"domain": ["C>A", "C>G", "C>T", "T>A", "T>C", "T>G"], "range": ["#2EBAED", "#000000", "#DE1C14", "#D4D2D2", "#ADCC54", "#F0D0CE"]}, "legend": null}
                }
              },
              {
                "transform": [{"filter": "datum.sub === 'C>A' && datum.ctx === 'A.A'"}],
                "mark": {"type": "text", "align": "left", "baseline": "middle", "fontWeight": "bold", "fontSize": 9},
                "encoding": {"x": {"field": "ctx", "type": "nominal", "sort": null}, "y": {"datum": 0.168}, "text": {"value": "sciATAC-seq"}}
              },
              {
                "transform": [{"filter": "datum.sub === 'T>G' && datum.ctx === 'T.T'"}],
                "mark": {"type": "text", "align": "right", "baseline": "middle", "fontSize": 9},
                "encoding": {"x": {"field": "ctx", "type": "nominal", "sort": null}, "y": {"datum": 0.18}, "text": {"value": "Cosine (reconstructed) = 0.79"}}
              }
            ]
          }
        },
        {
          "title": {"text": "c", "anchor": "start", "frame": "bounds", "fontSize": 11, "fontWeight": "bold", "offset": -6},
          "vconcat": [
            {
              "title": {"text": "sciATAC-seq", "fontSize": 10, "fontWeight": "bold", "offset": 4},
              "data": {"values": [{"sig": "SBS5/40", "share": 1}]},
              "width": 88, "height": 88,
              "view": {"stroke": null},
              "mark": {"type": "arc", "stroke": "#333333", "strokeWidth": 0.7},
              "encoding": {
                "theta": {"field": "share", "type": "quantitative"},
                "color": {"field": "sig", "type": "nominal", "scale": {"domain": ["SBS5/40"], "range": ["#B3643C"]},
                          "legend": {"orient": "bottom", "direction": "horizontal", "title": ["Mutational", "signatures"], "titleOrient": "left", "symbolType": "square", "symbolSize": 200, "symbolStrokeColor": "#444444", "symbolStrokeWidth": 0.8, "labelFontSize": 9.5, "titleFontSize": 9.5, "titleFontWeight": "normal", "titleLineHeight": 11, "offset": 6}}
              }
            }
          ]
        }
      ]
    },
    {
      "data": {"name": "cap14"},
      "width": 990,
      "height": 280,
      "view": {"stroke": null},
      "encoding": {
        "x": {"field": "seg", "type": "nominal", "scale": {"type": "point", "domain": ["lead", "tail"], "range": [-52, 986], "padding": 0}, "axis": null},
        "y": {"field": "line", "type": "ordinal", "scale": {"type": "band", "domain": [1, 2, 3, 4, 5, 6, 7, 8, 9, 10], "paddingOuter": 0.15, "paddingInner": 0}, "axis": null},
        "text": {"field": "text"}
      },
      "layer": [
        {"transform": [{"filter": "datum.part === 'title'"}], "mark": {"type": "text", "align": "left", "baseline": "middle", "font": "Lato", "fontSize": 18.5, "fontWeight": "bold"}},
        {"transform": [{"filter": "datum.part === 'body' && datum.seg === 'lead'"}], "mark": {"type": "text", "align": "left", "baseline": "middle", "font": "Lato", "fontSize": 18}},
        {"transform": [{"filter": "datum.seg === 'tail'"}], "mark": {"type": "text", "align": "right", "baseline": "middle", "font": "Lato", "fontSize": 18}}
      ]
    },
    {
      "resolve": {"scale": {"color": "shared", "shape": "shared"}},
      "vconcat": [
        {
          "data": {"name": "f15"},
          "title": {"text": "Cell types", "orient": "bottom", "anchor": "middle", "fontSize": 12, "fontWeight": "normal", "offset": 10},
          "resolve": {"scale": {"color": "shared", "shape": "shared"}},
          "spacing": 4,
          "hconcat": [
            {
              "width": 118, "height": 167, "view": {"stroke": null},
              "title": {"text": "Adipocytes", "anchor": "start", "fontSize": 12, "fontWeight": "normal", "offset": 4, "dx": 2},
              "transform": [{"filter": "datum.cell === 'Adipocytes'"}],
              "encoding": {
                "x": {"field": "ds", "type": "nominal", "sort": ["Heart cell atlas scRNA-seq", "Pan-tissue (GTEx) scRNA-seq", "Pan-tissue (DNA) sciATAC-seq"], "scale": {"paddingInner": 0, "paddingOuter": 0.1}, "axis": {"title": null, "labels": false, "ticks": false, "domain": true, "domainColor": "#555555"}}
              },
              "layer": [
                {"transform": [{"filter": "datum.ds === 'Heart cell atlas scRNA-seq'"}], "mark": {"type": "point", "filled": true, "size": 70, "opacity": 1},
                 "encoding": {"xOffset": {"field": "r", "type": "ordinal", "scale": {"paddingInner": 0, "paddingOuter": 0, "range": [11.25, 42.75]}},
                   "y": {"field": "v", "type": "quantitative", "scale": {"domain": [-320, 2860], "nice": false, "zero": false}, "axis": {"values": [0, 1000, 2000], "format": "d", "labelOverlap": false, "grid": false, "domainColor": "#555555", "tickColor": "#555555", "tickSize": 5, "labelFontSize": 12, "labelPadding": 4, "title": "# Muts. per cell and genome", "titleFontSize": 12, "titlePadding": 8}},
                   "color": {"field": "ds", "type": "nominal", "scale": {"domain": ["Heart cell atlas scRNA-seq", "Pan-tissue (GTEx) scRNA-seq", "Pan-tissue (DNA) sciATAC-seq"], "range": ["#999999", "#E69F00", "#56B4E9"]}, "legend": {"title": "Data set", "orient": "bottom", "direction": "horizontal", "titleOrient": "left", "symbolType": "circle", "symbolSize": 80, "labelFontSize": 12.5, "titleFontSize": 12.5, "titleFontWeight": "normal", "columnPadding": 36, "labelOffset": 8, "labelExpr": "[replace(slice(datum.label, 0, lastindexof(datum.label, ' ')), '-', '\u2212'), replace(slice(datum.label, lastindexof(datum.label, ' ') + 1), '-', '\u2212')]"}},
                   "shape": {"field": "age", "type": "nominal", "scale": {"domain": ["20-39", "40-59", "60-79"], "range": ["circle", "triangle-up", "square"]}, "legend": {"title": "Age", "orient": "bottom", "direction": "horizontal", "titleOrient": "left", "symbolSize": 50, "symbolFillColor": "black", "symbolStrokeColor": "black", "labelFontSize": 12.5, "titleFontSize": 12.5, "titleFontWeight": "normal", "columnPadding": 16, "labelOffset": 8, "labelExpr": "replace(datum.label, '-', '\u2212')"}}}},
                {"transform": [{"filter": "datum.ds === 'Pan-tissue (GTEx) scRNA-seq'"}], "mark": {"type": "point", "filled": true, "size": 70, "opacity": 1},
                 "encoding": {"xOffset": {"field": "r", "type": "ordinal", "scale": {"paddingInner": 0, "paddingOuter": 0, "range": [16, 38]}}, "y": {"field": "v", "type": "quantitative", "scale": {"domain": [-320, 2860], "nice": false, "zero": false}}, "color": {"field": "ds", "type": "nominal"}, "shape": {"field": "age", "type": "nominal"}}},
                {"mark": {"type": "tick", "color": "black", "thickness": 2, "size": 38}, "encoding": {"y": {"aggregate": "median", "field": "v", "type": "quantitative", "scale": {"domain": [-320, 2860], "nice": false, "zero": false}}}},
                {"transform": [{"aggregate": [{"op": "count", "as": "n"}], "groupby": ["ds"]}], "mark": {"type": "text", "fontSize": 12, "baseline": "middle"}, "encoding": {"y": {"datum": -190, "type": "quantitative"}, "text": {"field": "n", "type": "quantitative"}}}
              ],
              "resolve": {"scale": {"xOffset": "independent"}}
            },
            {
              "width": 118, "height": 167, "view": {"stroke": null},
              "title": {"text": "Cardiomyocytes", "anchor": "start", "fontSize": 12, "fontWeight": "normal", "offset": 4, "dx": 2},
              "transform": [{"filter": "datum.cell === 'Cardiomyocytes'"}],
              "encoding": {
                "x": {"field": "ds", "type": "nominal", "sort": ["Heart cell atlas scRNA-seq", "Pan-tissue (GTEx) scRNA-seq", "Pan-tissue (DNA) sciATAC-seq"], "scale": {"paddingInner": 0, "paddingOuter": 0.1}, "axis": {"title": null, "labels": false, "ticks": false, "domain": true, "domainColor": "#555555"}}
              },
              "layer": [
                {"transform": [{"filter": "datum.ds === 'Heart cell atlas scRNA-seq'"}], "mark": {"type": "point", "filled": true, "size": 70, "opacity": 1},
                 "encoding": {"xOffset": {"field": "r", "type": "ordinal", "scale": {"paddingInner": 0, "paddingOuter": 0, "range": [8.2, 45.8]}}, "y": {"field": "v", "type": "quantitative", "scale": {"domain": [-320, 2860], "nice": false, "zero": false}, "axis": {"values": [0, 1000, 2000], "grid": false, "domainColor": "#555555", "tickColor": "#555555", "tickSize": 5, "labels": false, "title": null}}, "color": {"field": "ds", "type": "nominal"}, "shape": {"field": "age", "type": "nominal"}}},
                {"transform": [{"filter": "datum.ds === 'Pan-tissue (DNA) sciATAC-seq'"}], "mark": {"type": "point", "filled": true, "size": 70, "opacity": 1},
                 "encoding": {"xOffset": {"field": "r", "type": "ordinal", "scale": {"paddingInner": 0, "paddingOuter": 0, "range": [9.7, 44.3]}}, "y": {"field": "v", "type": "quantitative", "scale": {"domain": [-320, 2860], "nice": false, "zero": false}}, "color": {"field": "ds", "type": "nominal"}, "shape": {"field": "age", "type": "nominal"}}},
                {"mark": {"type": "tick", "color": "black", "thickness": 2, "size": 38}, "encoding": {"y": {"aggregate": "median", "field": "v", "type": "quantitative", "scale": {"domain": [-320, 2860], "nice": false, "zero": false}}}},
                {"transform": [{"aggregate": [{"op": "count", "as": "n"}], "groupby": ["ds"]}], "mark": {"type": "text", "fontSize": 12, "baseline": "middle"}, "encoding": {"y": {"datum": -190, "type": "quantitative"}, "text": {"field": "n", "type": "quantitative"}}}
              ],
              "resolve": {"scale": {"xOffset": "independent"}}
            },
            {
              "width": 187, "height": 167, "view": {"stroke": null},
              "title": {"text": "Endothelial cells", "anchor": "start", "fontSize": 12, "fontWeight": "normal", "offset": 4, "dx": 2},
              "transform": [{"filter": "datum.cell === 'Endothelial cells'"}],
              "encoding": {
                "x": {"field": "ds", "type": "nominal", "sort": ["Heart cell atlas scRNA-seq", "Pan-tissue (GTEx) scRNA-seq", "Pan-tissue (DNA) sciATAC-seq"], "scale": {"paddingInner": 0, "paddingOuter": 0.2}, "axis": {"title": null, "labels": false, "ticks": false, "domain": true, "domainColor": "#555555"}}
              },
              "layer": [
                {"transform": [{"filter": "datum.ds === 'Heart cell atlas scRNA-seq'"}], "mark": {"type": "point", "filled": true, "size": 70, "opacity": 1},
                 "encoding": {"xOffset": {"field": "r", "type": "ordinal", "scale": {"paddingInner": 0, "paddingOuter": 0, "range": [9.3, 44.7]}}, "y": {"field": "v", "type": "quantitative", "scale": {"domain": [-320, 2860], "nice": false, "zero": false}, "axis": {"values": [0, 1000, 2000], "grid": false, "domainColor": "#555555", "tickColor": "#555555", "tickSize": 5, "labels": false, "title": null}}, "color": {"field": "ds", "type": "nominal"}, "shape": {"field": "age", "type": "nominal"}}},
                {"transform": [{"filter": "datum.ds === 'Pan-tissue (GTEx) scRNA-seq'"}], "mark": {"type": "point", "filled": true, "size": 70, "opacity": 1},
                 "encoding": {"xOffset": {"field": "r", "type": "ordinal", "scale": {"paddingInner": 0, "paddingOuter": 0, "range": [8, 46]}}, "y": {"field": "v", "type": "quantitative", "scale": {"domain": [-320, 2860], "nice": false, "zero": false}}, "color": {"field": "ds", "type": "nominal"}, "shape": {"field": "age", "type": "nominal"}}},
                {"transform": [{"filter": "datum.ds === 'Pan-tissue (DNA) sciATAC-seq'"}], "mark": {"type": "point", "filled": true, "size": 70, "opacity": 1},
                 "encoding": {"xOffset": {"field": "r", "type": "ordinal", "scale": {"paddingInner": 0, "paddingOuter": 0, "range": [10.4, 43.6]}}, "y": {"field": "v", "type": "quantitative", "scale": {"domain": [-320, 2860], "nice": false, "zero": false}}, "color": {"field": "ds", "type": "nominal"}, "shape": {"field": "age", "type": "nominal"}}},
                {"mark": {"type": "tick", "color": "black", "thickness": 2, "size": 38}, "encoding": {"y": {"aggregate": "median", "field": "v", "type": "quantitative", "scale": {"domain": [-320, 2860], "nice": false, "zero": false}}}},
                {"transform": [{"aggregate": [{"op": "count", "as": "n"}], "groupby": ["ds"]}], "mark": {"type": "text", "fontSize": 12, "baseline": "middle"}, "encoding": {"y": {"datum": -190, "type": "quantitative"}, "text": {"field": "n", "type": "quantitative"}}}
              ],
              "resolve": {"scale": {"xOffset": "independent"}}
            },
            {
              "width": 118, "height": 167, "view": {"stroke": null},
              "title": {"text": "Epithelial cells", "anchor": "start", "fontSize": 12, "fontWeight": "normal", "offset": 4, "dx": 2},
              "transform": [{"filter": "datum.cell === 'Epithelial cells'"}],
              "encoding": {
                "x": {"field": "ds", "type": "nominal", "sort": ["Heart cell atlas scRNA-seq", "Pan-tissue (GTEx) scRNA-seq", "Pan-tissue (DNA) sciATAC-seq"], "scale": {"paddingInner": 0, "paddingOuter": 0.1}, "axis": {"title": null, "labels": false, "ticks": false, "domain": true, "domainColor": "#555555"}}
              },
              "layer": [
                {"transform": [{"filter": "datum.ds === 'Pan-tissue (GTEx) scRNA-seq'"}], "mark": {"type": "point", "filled": true, "size": 70, "opacity": 1},
                 "encoding": {"xOffset": {"field": "r", "type": "ordinal", "scale": {"paddingInner": 0, "paddingOuter": 0, "range": [11.8, 42.2]}}, "y": {"field": "v", "type": "quantitative", "scale": {"domain": [-320, 2860], "nice": false, "zero": false}, "axis": {"values": [0, 1000, 2000], "grid": false, "domainColor": "#555555", "tickColor": "#555555", "tickSize": 5, "labels": false, "title": null}}, "color": {"field": "ds", "type": "nominal"}, "shape": {"field": "age", "type": "nominal"}}},
                {"transform": [{"filter": "datum.ds === 'Pan-tissue (DNA) sciATAC-seq'"}], "mark": {"type": "point", "filled": true, "size": 70, "opacity": 1},
                 "encoding": {"xOffset": {"field": "r", "type": "ordinal", "scale": {"paddingInner": 0, "paddingOuter": 0, "range": [8.4, 45.6]}}, "y": {"field": "v", "type": "quantitative", "scale": {"domain": [-320, 2860], "nice": false, "zero": false}}, "color": {"field": "ds", "type": "nominal"}, "shape": {"field": "age", "type": "nominal"}}},
                {"mark": {"type": "tick", "color": "black", "thickness": 2, "size": 38}, "encoding": {"y": {"aggregate": "median", "field": "v", "type": "quantitative", "scale": {"domain": [-320, 2860], "nice": false, "zero": false}}}},
                {"transform": [{"aggregate": [{"op": "count", "as": "n"}], "groupby": ["ds"]}], "mark": {"type": "text", "fontSize": 12, "baseline": "middle"}, "encoding": {"y": {"datum": -190, "type": "quantitative"}, "text": {"field": "n", "type": "quantitative"}}}
              ],
              "resolve": {"scale": {"xOffset": "independent"}}
            },
            {
              "width": 118, "height": 167, "view": {"stroke": null},
              "title": {"text": "Fibroblast", "anchor": "start", "fontSize": 12, "fontWeight": "normal", "offset": 4, "dx": 2},
              "transform": [{"filter": "datum.cell === 'Fibroblast'"}],
              "encoding": {
                "x": {"field": "ds", "type": "nominal", "sort": ["Heart cell atlas scRNA-seq", "Pan-tissue (GTEx) scRNA-seq", "Pan-tissue (DNA) sciATAC-seq"], "scale": {"paddingInner": 0, "paddingOuter": 0.1}, "axis": {"title": null, "labels": false, "ticks": false, "domain": true, "domainColor": "#555555"}}
              },
              "layer": [
                {"transform": [{"filter": "datum.ds === 'Heart cell atlas scRNA-seq'"}], "mark": {"type": "point", "filled": true, "size": 70, "opacity": 1},
                 "encoding": {"xOffset": {"field": "r", "type": "ordinal", "scale": {"paddingInner": 0, "paddingOuter": 0, "range": [9.3, 44.7]}}, "y": {"field": "v", "type": "quantitative", "scale": {"domain": [-320, 2860], "nice": false, "zero": false}, "axis": {"values": [0, 1000, 2000], "grid": false, "domainColor": "#555555", "tickColor": "#555555", "tickSize": 5, "labels": false, "title": null}}, "color": {"field": "ds", "type": "nominal"}, "shape": {"field": "age", "type": "nominal"}}},
                {"transform": [{"filter": "datum.ds === 'Pan-tissue (GTEx) scRNA-seq'"}], "mark": {"type": "point", "filled": true, "size": 70, "opacity": 1},
                 "encoding": {"xOffset": {"field": "r", "type": "ordinal", "scale": {"paddingInner": 0, "paddingOuter": 0, "range": [10.5, 43.5]}}, "y": {"field": "v", "type": "quantitative", "scale": {"domain": [-320, 2860], "nice": false, "zero": false}}, "color": {"field": "ds", "type": "nominal"}, "shape": {"field": "age", "type": "nominal"}}},
                {"mark": {"type": "tick", "color": "black", "thickness": 2, "size": 38}, "encoding": {"y": {"aggregate": "median", "field": "v", "type": "quantitative", "scale": {"domain": [-320, 2860], "nice": false, "zero": false}}}},
                {"transform": [{"aggregate": [{"op": "count", "as": "n"}], "groupby": ["ds"]}], "mark": {"type": "text", "fontSize": 12, "baseline": "middle"}, "encoding": {"y": {"datum": -190, "type": "quantitative"}, "text": {"field": "n", "type": "quantitative"}}}
              ],
              "resolve": {"scale": {"xOffset": "independent"}}
            },
            {
              "width": 118, "height": 167, "view": {"stroke": null},
              "title": {"text": "Lymphoid", "anchor": "start", "fontSize": 12, "fontWeight": "normal", "offset": 4, "dx": 2},
              "transform": [{"filter": "datum.cell === 'Lymphoid'"}],
              "encoding": {
                "x": {"field": "ds", "type": "nominal", "sort": ["Heart cell atlas scRNA-seq", "Pan-tissue (GTEx) scRNA-seq", "Pan-tissue (DNA) sciATAC-seq"], "scale": {"paddingInner": 0, "paddingOuter": 0.1}, "axis": {"title": null, "labels": false, "ticks": false, "domain": true, "domainColor": "#555555"}}
              },
              "layer": [
                {"transform": [{"filter": "datum.ds === 'Heart cell atlas scRNA-seq'"}], "mark": {"type": "point", "filled": true, "size": 70, "opacity": 1},
                 "encoding": {"xOffset": {"field": "r", "type": "ordinal", "scale": {"paddingInner": 0, "paddingOuter": 0, "range": [12, 42]}}, "y": {"field": "v", "type": "quantitative", "scale": {"domain": [-320, 2860], "nice": false, "zero": false}, "axis": {"values": [0, 1000, 2000], "grid": false, "domainColor": "#555555", "tickColor": "#555555", "tickSize": 5, "labels": false, "title": null}}, "color": {"field": "ds", "type": "nominal"}, "shape": {"field": "age", "type": "nominal"}}},
                {"transform": [{"filter": "datum.ds === 'Pan-tissue (GTEx) scRNA-seq'"}], "mark": {"type": "point", "filled": true, "size": 70, "opacity": 1},
                 "encoding": {"xOffset": {"field": "r", "type": "ordinal", "scale": {"paddingInner": 0, "paddingOuter": 0, "range": [9.8, 44.2]}}, "y": {"field": "v", "type": "quantitative", "scale": {"domain": [-320, 2860], "nice": false, "zero": false}}, "color": {"field": "ds", "type": "nominal"}, "shape": {"field": "age", "type": "nominal"}}},
                {"mark": {"type": "tick", "color": "black", "thickness": 2, "size": 38}, "encoding": {"y": {"aggregate": "median", "field": "v", "type": "quantitative", "scale": {"domain": [-320, 2860], "nice": false, "zero": false}}}},
                {"transform": [{"aggregate": [{"op": "count", "as": "n"}], "groupby": ["ds"]}], "mark": {"type": "text", "fontSize": 12, "baseline": "middle"}, "encoding": {"y": {"datum": -190, "type": "quantitative"}, "text": {"field": "n", "type": "quantitative"}}}
              ],
              "resolve": {"scale": {"xOffset": "independent"}}
            },
            {
              "width": 118, "height": 167, "view": {"stroke": null},
              "title": {"text": "Myeloid cells", "anchor": "start", "fontSize": 12, "fontWeight": "normal", "offset": 4, "dx": 2},
              "transform": [{"filter": "datum.cell === 'Myeloid cells'"}],
              "encoding": {
                "x": {"field": "ds", "type": "nominal", "sort": ["Heart cell atlas scRNA-seq", "Pan-tissue (GTEx) scRNA-seq", "Pan-tissue (DNA) sciATAC-seq"], "scale": {"paddingInner": 0, "paddingOuter": 0.1}, "axis": {"title": null, "labels": false, "ticks": false, "domain": true, "domainColor": "#555555"}}
              },
              "layer": [
                {"transform": [{"filter": "datum.ds === 'Heart cell atlas scRNA-seq'"}], "mark": {"type": "point", "filled": true, "size": 70, "opacity": 1},
                 "encoding": {"xOffset": {"field": "r", "type": "ordinal", "scale": {"paddingInner": 0, "paddingOuter": 0, "range": [11.6, 42.4]}}, "y": {"field": "v", "type": "quantitative", "scale": {"domain": [-320, 2860], "nice": false, "zero": false}, "axis": {"values": [0, 1000, 2000], "grid": false, "domainColor": "#555555", "tickColor": "#555555", "tickSize": 5, "labels": false, "title": null}}, "color": {"field": "ds", "type": "nominal"}, "shape": {"field": "age", "type": "nominal"}}},
                {"transform": [{"filter": "datum.ds === 'Pan-tissue (GTEx) scRNA-seq'"}], "mark": {"type": "point", "filled": true, "size": 70, "opacity": 1},
                 "encoding": {"xOffset": {"field": "r", "type": "ordinal", "scale": {"paddingInner": 0, "paddingOuter": 0, "range": [9.1, 44.9]}}, "y": {"field": "v", "type": "quantitative", "scale": {"domain": [-320, 2860], "nice": false, "zero": false}}, "color": {"field": "ds", "type": "nominal"}, "shape": {"field": "age", "type": "nominal"}}},
                {"mark": {"type": "tick", "color": "black", "thickness": 2, "size": 38}, "encoding": {"y": {"aggregate": "median", "field": "v", "type": "quantitative", "scale": {"domain": [-320, 2860], "nice": false, "zero": false}}}},
                {"transform": [{"aggregate": [{"op": "count", "as": "n"}], "groupby": ["ds"]}], "mark": {"type": "text", "fontSize": 12, "baseline": "middle"}, "encoding": {"y": {"datum": -190, "type": "quantitative"}, "text": {"field": "n", "type": "quantitative"}}}
              ],
              "resolve": {"scale": {"xOffset": "independent"}}
            }
          ]
        }
      ]
    },
    {
      "data": {"name": "cap15"},
      "width": 990,
      "height": 110,
      "view": {"stroke": null},
      "encoding": {
        "x": {"field": "seg", "type": "nominal", "scale": {"type": "point", "domain": ["lead", "tail"], "range": [-52, 986], "padding": 0}, "axis": null},
        "y": {"field": "line", "type": "ordinal", "scale": {"type": "band", "domain": [1, 2, 3, 4], "paddingInner": 0, "paddingOuter": 0}, "axis": null},
        "text": {"field": "text"}
      },
      "layer": [
        {"transform": [{"filter": "datum.part === 'title'"}], "mark": {"type": "text", "align": "left", "baseline": "middle", "font": "Lato", "fontSize": 18.5, "fontWeight": "bold"}},
        {"transform": [{"filter": "datum.part === 'body' && datum.seg === 'lead'"}], "mark": {"type": "text", "align": "left", "baseline": "middle", "font": "Lato", "fontSize": 18}},
        {"transform": [{"filter": "datum.seg === 'tail'"}], "mark": {"type": "text", "align": "right", "baseline": "middle", "font": "Lato", "fontSize": 18}}
      ]
    }
  ]
}
